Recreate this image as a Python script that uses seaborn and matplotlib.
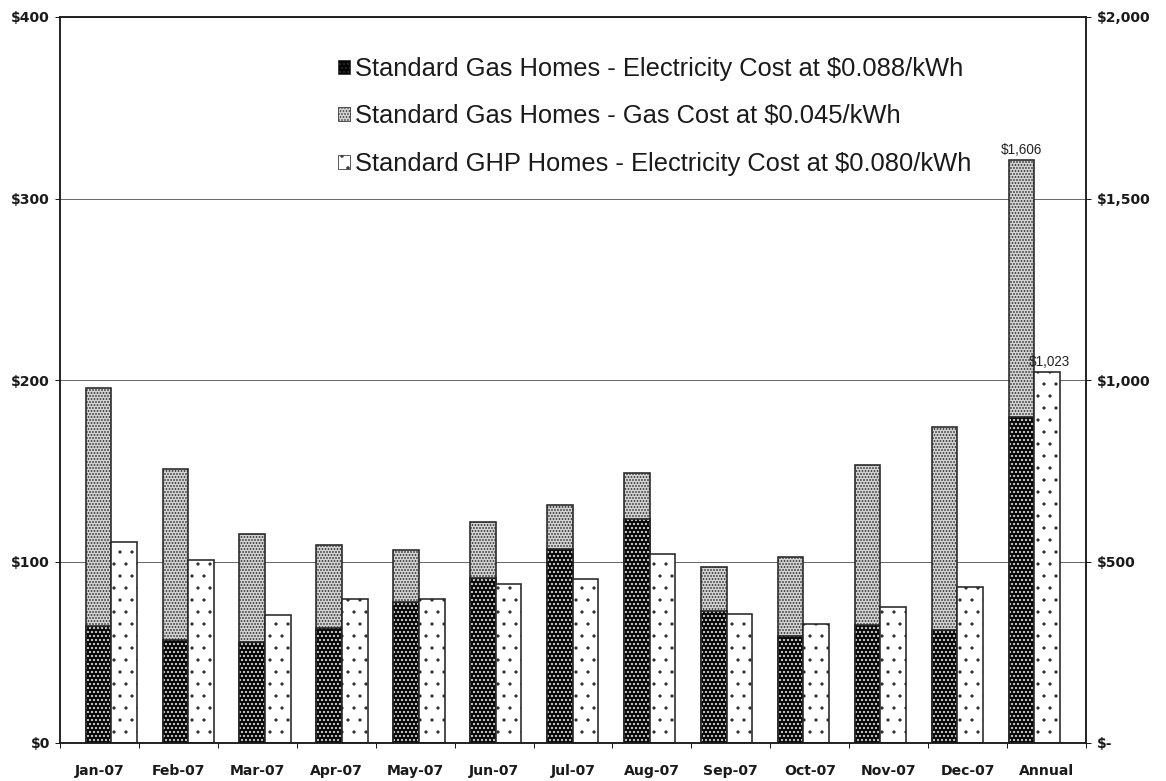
import numpy as np
import matplotlib
matplotlib.use("Agg")
import matplotlib.pyplot as plt
from matplotlib.patches import Patch
from matplotlib.ticker import FixedLocator, FuncFormatter
import seaborn as sns

# ---- data -------------------------------------------------------------
months = ["Jan-07", "Feb-07", "Mar-07", "Apr-07", "May-07", "Jun-07",
          "Jul-07", "Aug-07", "Sep-07", "Oct-07", "Nov-07", "Dec-07"]
annual_label = "Annual"

# monthly cost, $ (left axis)
gas_home_elec = [64.6, 56.6, 55.6, 63.2, 77.5, 91.1, 106.9, 123.6, 72.9, 59.1, 65.0, 62.3]
gas_home_gas = [130.9, 94.4, 59.6, 45.7, 28.8, 30.8, 24.4, 25.2, 24.2, 43.2, 88.3, 111.7]
ghp_home_elec = [110.6, 101.1, 70.7, 79.2, 79.5, 87.8, 90.4, 104.0, 71.1, 65.6, 75.1, 86.1]

# annual cost, $ (right axis)
annual_gas_home_elec = 898
annual_gas_home_gas = 708
annual_ghp_home_elec = 1023

series_labels = [
    "Standard Gas Homes - Electricity Cost at $0.088/kWh",
    "Standard Gas Homes - Gas Cost at $0.045/kWh",
    "Standard GHP Homes - Electricity Cost at $0.080/kWh",
]

# ---- style ------------------------------------------------------------
sns.set_style("white")
plt.rcParams["font.family"] = ["Liberation Sans", "DejaVu Sans"]

DPI = 72
W, H = 1166, 781
fig = plt.figure(figsize=(W / DPI, H / DPI), dpi=DPI)
fig.patch.set_facecolor("white")

ax = fig.add_axes([60 / W, 38 / H, 1026 / W, 726 / H])
ax2 = ax.twinx()

OUTLINE = "#262626"
BAR_W = 0.333
STYLES = {
    "elec": dict(face="#050505", hatch="...", dots="#d8d8d8", hlw=1.5),
    "gas": dict(face="#d2d2d2", hatch="....", dots="#262626", hlw=1.1),
    "ghp": dict(face="#ffffff", hatch=".", dots="#2a2a2a", hlw=0.7),
}


def draw_layer(axis, x, y, key):
    """Patterned bars with a dark outline."""
    s = STYLES[key]
    n0 = len(axis.patches)
    with plt.rc_context({"hatch.linewidth": s["hlw"]}):
        sns.barplot(x=x, y=y, native_scale=True, width=BAR_W, color=s["face"],
                    saturation=1, errorbar=None, ax=axis)
    for p in axis.patches[n0:]:
        p.set_facecolor(s["face"])
        p.set_edgecolor(s["dots"])
        p.set_hatch(s["hatch"])
        p.set_linewidth(0)
    n1 = len(axis.patches)
    sns.barplot(x=x, y=y, native_scale=True, width=BAR_W, color=OUTLINE,
                fill=False, errorbar=None, ax=axis)
    for p in axis.patches[n1:]:
        p.set_facecolor("none")
        p.set_edgecolor(OUTLINE)
        p.set_linewidth(1.6)
        p.set_hatch(None)


n = len(months)
pos = np.arange(n)
gas_total = np.array(gas_home_elec) + np.array(gas_home_gas)

# monthly bars (left axis)
draw_layer(ax, pos, gas_total, "gas")
draw_layer(ax, pos, np.array(gas_home_elec), "elec")
draw_layer(ax, pos + BAR_W, np.array(ghp_home_elec), "ghp")

# annual bars (right axis)
annual_total = annual_gas_home_elec + annual_gas_home_gas
draw_layer(ax2, np.array([n]), np.array([annual_total]), "gas")
draw_layer(ax2, np.array([n]), np.array([annual_gas_home_elec]), "elec")
draw_layer(ax2, np.array([n + BAR_W]), np.array([annual_ghp_home_elec]), "ghp")

ax2.annotate(f"${annual_total:,.0f}", xy=(n, annual_total), xytext=(0, 3),
             textcoords="offset points", ha="center", va="bottom", fontsize=13.5,
             color="#222222")
ax2.annotate(f"${annual_ghp_home_elec:,.0f}", xy=(n + BAR_W, annual_ghp_home_elec),
             xytext=(2, 3), textcoords="offset points", ha="center", va="bottom",
             fontsize=13.5, color="#222222")

# ---- axes -------------------------------------------------------------
X_LO, X_HI = -0.5, 12.84
ax.set_xlim(X_LO, X_HI)
ax2.set_xlim(X_LO, X_HI)
ax.set_ylim(0, 400)
ax2.set_ylim(0, 2000)
for a in (ax, ax2):
    a.set_xlabel("")
    a.set_ylabel("")
    a.tick_params(axis="x", bottom=False, top=False, labelbottom=False)
    for sp in a.spines.values():
        sp.set_color("#1a1a1a")
        sp.set_linewidth(1.5)

ax.set_yticks([0, 100, 200, 300, 400])
ax.yaxis.set_major_formatter(FuncFormatter(lambda v, _: f"${v:.0f}"))
ax2.set_yticks([0, 500, 1000, 1500, 2000])
ax2.yaxis.set_major_formatter(
    FuncFormatter(lambda v, _: "$-" if v == 0 else f"${v:,.0f}"))

tick_font = dict(family="DejaVu Sans", weight="bold", size=14)
ax.tick_params(axis="y", left=True, length=5, width=1, color="#1a1a1a", pad=5,
               labelcolor="#1a1a1a")
ax2.tick_params(axis="y", right=True, length=5, width=1, color="#1a1a1a", pad=6,
                labelcolor="#1a1a1a")
for lab in ax.get_yticklabels() + ax2.get_yticklabels():
    lab.set_fontproperties(tick_font)

ax.yaxis.grid(True, color="#6a6a6a", linewidth=1)
ax.set_axisbelow(True)

# category axis: 13 equal slots spread over the bar axis
n_cat = n + 1
scale = n_cat / (X_HI - X_LO)
fwd = lambda x: (np.asarray(x) - X_LO) * scale - 0.5
inv = lambda c: (np.asarray(c) + 0.5) / scale + X_LO
sec = ax.secondary_xaxis("bottom", functions=(fwd, inv))
sec.set_xticks(np.arange(n_cat), months + [annual_label])
sec.xaxis.set_minor_locator(FixedLocator(np.arange(n_cat + 1) - 0.5))
sec.tick_params(axis="x", which="major", length=0, pad=21, labelcolor="#1a1a1a")
sec.tick_params(axis="x", which="minor", length=5, width=1, color="#1a1a1a")
sec.spines["bottom"].set_visible(False)
for lab in sec.get_xticklabels():
    lab.set_fontproperties(tick_font)

# ---- legend -----------------------------------------------------------
handles = []
for k in ("elec", "gas", "ghp"):
    with plt.rc_context({"hatch.linewidth": STYLES[k]["hlw"]}):
        handles.append(Patch(facecolor=STYLES[k]["face"], edgecolor=STYLES[k]["dots"],
                             hatch=STYLES[k]["hatch"], linewidth=0))
leg = ax2.legend(handles, series_labels, loc="upper left",
                 bbox_to_anchor=(338 / W, 1 - 57 / H), bbox_transform=fig.transFigure,
                 frameon=False, fontsize=25.5, handlelength=0.47, handleheight=0.47,
                 handletextpad=0.2, labelspacing=0.92, borderpad=0, borderaxespad=0)
for t in leg.get_texts():
    t.set_color("#1a1a1a")
for h in leg.legend_handles:
    h.set_edgecolor("#333333")
    h.set_linewidth(0.8)

fig.savefig("out.png", dpi=DPI, facecolor="white")
